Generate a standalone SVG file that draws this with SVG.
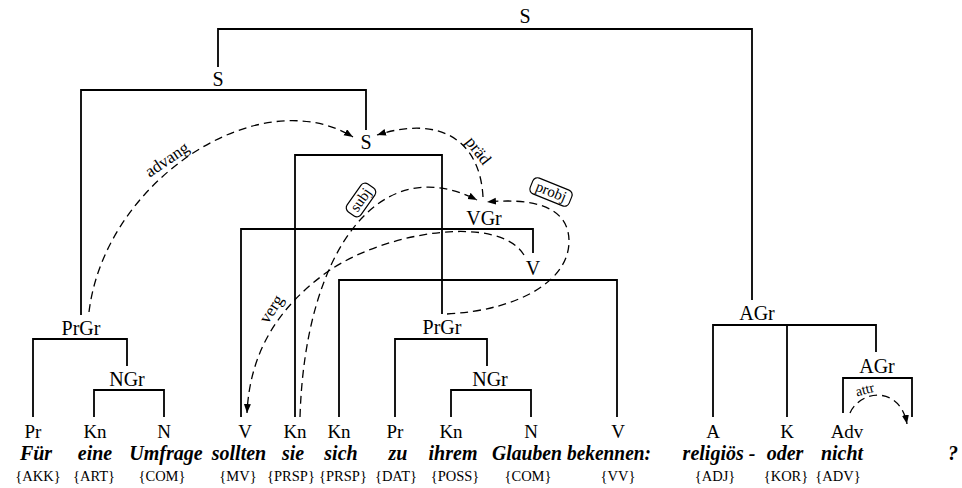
<svg xmlns="http://www.w3.org/2000/svg" width="962" height="488" viewBox="0 0 962 488">
<defs>
<marker id="ah" markerUnits="userSpaceOnUse" markerWidth="10" markerHeight="8" refX="9" refY="3.5" orient="auto">
<path d="M0,0 L9,3.5 L0,7 z" fill="#000"/>
</marker>
<style>
text{font-family:"Liberation Serif","Times New Roman",serif;fill:#000}
.cat{font-size:20px;text-anchor:middle}
.lc{font-size:19px;text-anchor:middle}
.w{font-size:20px;font-weight:bold;font-style:italic;text-anchor:middle}
.tag{font-size:14.5px;text-anchor:middle}
.rel{font-size:17px;text-anchor:middle}
.tree{fill:none;stroke:#000;stroke-width:1.8}
.dep{fill:none;stroke:#000;stroke-width:1.3;stroke-dasharray:8 5}
.box{fill:#fff;stroke:#000;stroke-width:1.2}
</style>
</defs>
<rect width="962" height="488" fill="#fff"/>

<g id="connectors">
<g id="tree-lines">
<path class="tree" d="M218 67 V29 H752 V300"/>
<path class="tree" d="M81 315 V90 H366 V130"/>
<path class="tree" d="M295 417 V155 H442 V314"/>
<path class="tree" d="M241 417 V229 H533 V253"/>
<path class="tree" d="M339 417 V280 H617 V417"/>
<path class="tree" d="M33 417 V339 H127 V366"/>
<path class="tree" d="M94 417 V390 H164 V417"/>
<path class="tree" d="M395 417 V339 H487 V366"/>
<path class="tree" d="M451 417 V390 H531 V417"/>
<path class="tree" d="M713 417 V325 H876 V352"/>
<path class="tree" d="M787 325 V417"/>
<path class="tree" d="M843 413 V378 H912 V417"/>
</g>
<g id="dependencies">
<path id="e-advang" class="dep" marker-end="url(#ah)" d="M89 312 C105 180 260 80 353 137"/>
<path id="e-praed" class="dep" marker-end="url(#ah)" d="M483 197 C480 140 440 115 377 135"/>
<path id="e-subj" class="dep" marker-end="url(#ah)" d="M300 417 C305 250 380 150 477 200"/>
<path id="e-probj" class="dep" marker-end="url(#ah)" d="M447 314 C520 310 570 280 569 240 C568 205 530 198 487 202"/>
<path id="e-verg" class="dep" marker-end="url(#ah)" d="M524 255 C500 215 390 230 330 270 C280 305 250 350 247 413"/>
<path id="e-attr" class="dep" marker-end="url(#ah)" d="M850 413 C860 390 900 385 907 424"/>
</g>
<g id="dep-labels">
<text class="rel" transform="translate(170 164) rotate(-34)">advang</text>
<text class="rel" transform="translate(474 154) rotate(52)">präd</text>
<g transform="translate(361 200) rotate(-55)">
<rect class="box" x="-17" y="-8.5" width="34" height="17" rx="5"/>
<text class="rel" x="0" y="4.5" style="font-size:15px">subj</text>
</g>
<g transform="translate(551 192) rotate(22)">
<rect class="box" x="-21" y="-8.5" width="42" height="17" rx="5"/>
<text class="rel" x="0" y="4.5" style="font-size:15px">probj</text>
</g>
<text class="rel" transform="translate(276 312) rotate(-57)">verg</text>
<text class="rel" transform="translate(866 394) rotate(-15)" style="font-size:14px">attr</text>
</g>
</g>

<g id="n-S-top"><text class="cat" x="525" y="23">S</text></g>
<g id="n-S-2"><text class="cat" x="218" y="86">S</text></g>
<g id="n-S-3"><text class="cat" x="366" y="149">S</text></g>
<g id="n-VGr"><text class="cat" x="484" y="225">VGr</text></g>
<g id="n-V-mid"><text class="cat" x="533" y="275">V</text></g>
<g id="n-PrGr-1"><text class="cat" x="81" y="335">PrGr</text></g>
<g id="n-NGr-1"><text class="cat" x="127" y="386">NGr</text></g>
<g id="n-PrGr-2"><text class="cat" x="442" y="334">PrGr</text></g>
<g id="n-NGr-2"><text class="cat" x="490" y="386">NGr</text></g>
<g id="n-AGr-1"><text class="cat" x="757" y="320">AGr</text></g>
<g id="n-AGr-2"><text class="cat" x="877" y="373">AGr</text></g>

<g id="leaf-Fuer"><text class="lc" x="33" y="438">Pr</text><text class="w" x="36" y="460">Für</text><text class="tag" x="38" y="481">{AKK}</text></g>
<g id="leaf-eine"><text class="lc" x="95" y="438">Kn</text><text class="w" x="95" y="460">eine</text><text class="tag" x="94" y="481">{ART}</text></g>
<g id="leaf-Umfrage"><text class="lc" x="164" y="438">N</text><text class="w" x="166" y="460">Umfrage</text><text class="tag" x="162" y="481">{COM}</text></g>
<g id="leaf-sollten"><text class="lc" x="245" y="438">V</text><text class="w" x="239" y="460">sollten</text><text class="tag" x="238" y="481">{MV}</text></g>
<g id="leaf-sie"><text class="lc" x="295" y="438">Kn</text><text class="w" x="293" y="460">sie</text><text class="tag" x="291" y="481">{PRSP}</text></g>
<g id="leaf-sich"><text class="lc" x="339" y="438">Kn</text><text class="w" x="341" y="460">sich</text><text class="tag" x="343" y="481">{PRSP}</text></g>
<g id="leaf-zu"><text class="lc" x="395" y="438">Pr</text><text class="w" x="398" y="460">zu</text><text class="tag" x="396" y="481">{DAT}</text></g>
<g id="leaf-ihrem"><text class="lc" x="451" y="438">Kn</text><text class="w" x="453" y="460">ihrem</text><text class="tag" x="455" y="481">{POSS}</text></g>
<g id="leaf-Glauben"><text class="lc" x="531" y="438">N</text><text class="w" x="527" y="460" textLength="70" lengthAdjust="spacingAndGlyphs">Glauben</text><text class="tag" x="528" y="481">{COM}</text></g>
<g id="leaf-bekennen"><text class="lc" x="618" y="438">V</text><text class="w" x="567" y="460" style="text-anchor:start" textLength="84" lengthAdjust="spacingAndGlyphs">bekennen:</text><text class="tag" x="618" y="481">{VV}</text></g>
<g id="leaf-religioes"><text class="lc" x="713" y="438">A</text><text class="w" x="719" y="460">religiös -</text><text class="tag" x="715" y="481">{ADJ}</text></g>
<g id="leaf-oder"><text class="lc" x="787" y="438">K</text><text class="w" x="785" y="460">oder</text><text class="tag" x="786" y="481">{KOR}</text></g>
<g id="leaf-nicht"><text class="lc" x="847" y="438">Adv</text><text class="w" x="842" y="460">nicht</text><text class="tag" x="838" y="481">{ADV}</text></g>
<g id="leaf-q"><text class="w" x="953" y="460">?</text></g>
</svg>
